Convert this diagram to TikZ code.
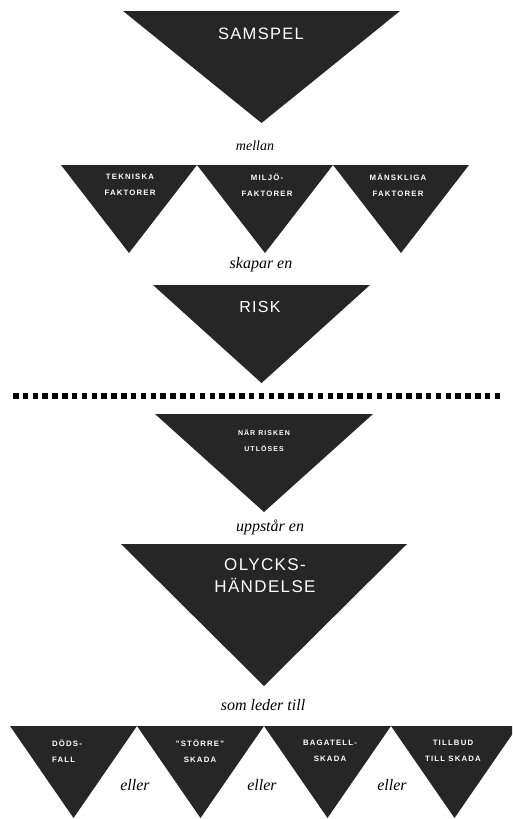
\documentclass[tikz,border=0pt]{standalone}
\usepackage{fontspec}
\newfontfamily\capfont[LetterSpace=15]{Liberation Sans}
\newfontfamily\bigfont[LetterSpace=8]{Liberation Sans}
\newfontfamily\linkfont{Liberation Serif}
\usetikzlibrary{positioning}
\tikzstyle{drop}=[fill=black!85]
\tikzstyle{cap label}=[text=white,align=center,inner sep=0pt,font=\capfont\bfseries\fontsize{7.8}{16}\selectfont]
\tikzstyle{big label}=[text=white,align=center,inner sep=0pt,font=\bigfont\fontsize{16.5}{22}\selectfont]
\tikzstyle{link word}=[inner sep=0pt,font=\linkfont\itshape\fontsize{16}{18}\selectfont]
\tikzstyle{cut line}=[line width=5.5pt,dash pattern=on 5.5pt off 4.33pt]
\newcommand{\droptri}[4]{
  \fill[drop] (#1,#2) -- ++(#3,0) -- ++(-#3/2,#4) -- cycle
}

\begin{document}
\begin{tikzpicture}[x=1pt,y=-1pt]
  \clip (0,0) rectangle (512,819);
        \droptri{123}{11}{277}{112};
        \node[big label] (samspel) at (261,34) {SAMSPEL};
        \node[link word,font=\linkfont\itshape\fontsize{14}{16}\selectfont] (mellan) at (255,146) {mellan};

    \droptri{61}{165}{136}{88};
    \droptri{197}{165}{136}{88};
    \droptri{333}{165}{136}{88};
         \node[cap label] (teknik) at (130,185) {TEKNISKA\\FAKTORER};
         \node[cap label] (miljo) at (267,185) {MILJÖ-\\FAKTORER};
         \node[cap label] (mansk) at (398,185) {MÄNSKLIGA\\FAKTORER};

        \node[link word] (skapar) at (261,265) {skapar en};
        \droptri{153}{285}{217}{98};
        \node[big label,font=\bigfont\fontsize{16}{22}\selectfont] (risk) at (260,307) {RISK};

% skiljelinje
  \coordinate (cut west) at (13,396);
  \coordinate (cut east) at (500,396);
  \draw[cut line] (cut west) -- (cut east);

        \droptri{155}{414}{218}{98};
        \node[cap label,font=\capfont\bfseries\fontsize{7}{16}\selectfont] (utloses) at (264,441) {NÄR RISKEN\\UTLÖSES};
        \node[link word] (uppstar) at (270,527) {uppstår en};

        \droptri{121}{544}{286}{142};
        \node[big label,font=\bigfont\fontsize{17}{22}\selectfont] (olycka) at (265,576) {OLYCKS-\\HÄNDELSE};
        \node[link word] (leder) at (263,705) {som leder till};

    \droptri{10}{726}{127}{92};
    \droptri{137}{726}{127}{92};
    \droptri{264}{726}{127}{92};
    \droptri{391}{726}{127}{92};
         \node[cap label,align=left] (dod) at (67,751) {DÖDS-\\FALL};
         \node[cap label] (storre) at (200,751) {"STÖRRE"\\SKADA};
         \node[cap label] (bagatell) at (330,751) {BAGATELL-\\SKADA};
         \node[cap label] (tillbud) at (453,751) {TILLBUD\\TILL SKADA};

    \node[link word] (eller a) at (135,785) {eller};
    \node[link word] (eller b) at (262,785) {eller};
    \node[link word] (eller c) at (392,785) {eller};
\end{tikzpicture}
\end{document}
